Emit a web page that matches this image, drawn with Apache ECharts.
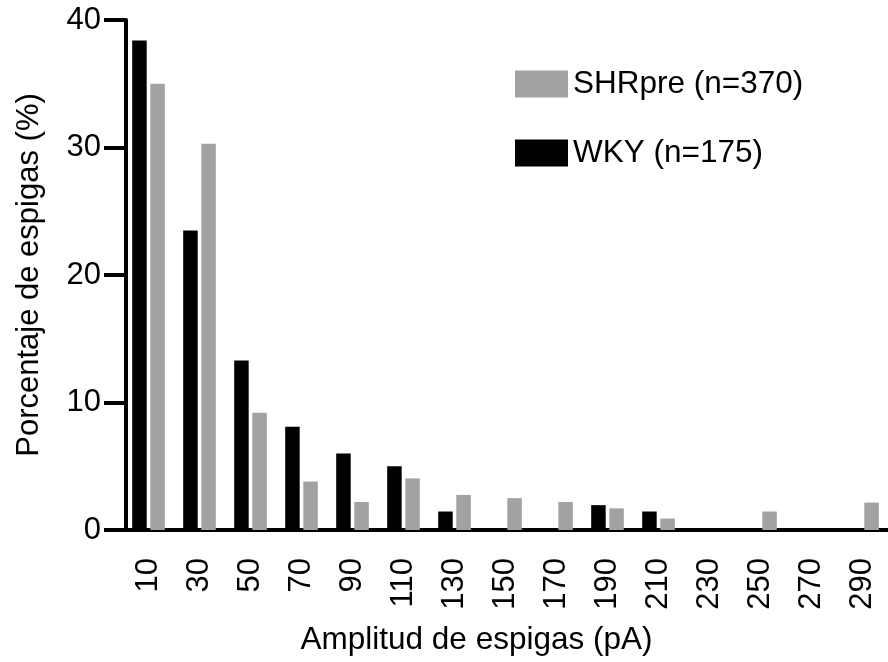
<!DOCTYPE html>
<html>
<head>
<meta charset="utf-8">
<script src="https://cdn.jsdelivr.net/npm/echarts@6/dist/echarts.min.js"></script>
<style>
html,body{margin:0;padding:0;background:#fff;}
#chart{width:888px;height:662px;}
</style>
</head>
<body>
<div id="chart"></div>
<script>
const categories = ['10','30','50','70','90','110','130','150','170','190','210','230','250','270','290'];
const wkyValues = [38.4, 23.5, 13.3, 8.1, 6.0, 5.0, 1.45, 0, 0, 1.95, 1.45, 0, 0, 0, 0];
const shrValues = [35.0, 30.3, 9.2, 3.8, 2.2, 4.05, 2.75, 2.5, 2.2, 1.7, 0.9, 0, 1.45, 0, 2.15];
const yTicks = [0, 10, 20, 30, 40];
const wkyName = 'WKY (n=175)';
const shrName = 'SHRpre (n=370)';
const xTitle = 'Amplitud de espigas (pA)';
const yTitle = 'Porcentaje de espigas (%)';

const FONT = '"Liberation Sans", Arial, Helvetica, sans-serif';
const chart = echarts.init(document.getElementById('chart'), null, {renderer: 'canvas'});
chart.setOption({
  animation: false,
  backgroundColor: '#ffffff',
  textStyle: {fontFamily: FONT, color: '#000'},
  legend: {
    data: [shrName, wkyName],
    orient: 'vertical',
    left: 510, top: 63,
    icon: 'rect',
    itemWidth: 53, itemHeight: 27,
    itemGap: 37,
    textStyle: {fontFamily: FONT, fontSize: 31.5, color: '#000'}
  },
  grid: {left: 123, right: -3, top: 20, bottom: 132, containLabel: false},
  xAxis: {
    type: 'category',
    data: categories,
    name: xTitle,
    nameLocation: 'middle',
    nameGap: 94,
    nameTextStyle: {fontFamily: FONT, fontSize: 31.5, color: '#000', padding: [0, 58, 0, 0]},
    axisLine: {lineStyle: {color: '#000', width: 4}},
    axisTick: {alignWithLabel: true, length: 22, lineStyle: {color: '#000', width: 4}},
    axisLabel: {rotate: 90, margin: 28, fontFamily: FONT, fontSize: 31, color: '#000', interval: 0},
    splitLine: {show: false}
  },
  yAxis: {
    type: 'value',
    min: yTicks[0], max: yTicks[yTicks.length - 1], interval: 10,
    offset: -3,
    name: yTitle,
    nameLocation: 'middle',
    nameGap: 81,
    nameTextStyle: {fontFamily: FONT, fontSize: 31, color: '#000'},
    axisLine: {show: true, lineStyle: {color: '#000', width: 4}},
    axisTick: {show: true, length: 22, lineStyle: {color: '#000', width: 4}},
    axisLabel: {margin: 25, fontFamily: FONT, fontSize: 31, color: '#000'},
    splitLine: {show: false}
  },
  series: [
    {name: wkyName, type: 'bar', data: wkyValues, barWidth: 14.5, barGap: '25%',
     itemStyle: {color: '#000000'}},
    {name: shrName, type: 'bar', data: shrValues, barWidth: 14.5, barGap: '25%',
     itemStyle: {color: '#a2a2a5'}}
  ]
});
</script>
</body>
</html>
